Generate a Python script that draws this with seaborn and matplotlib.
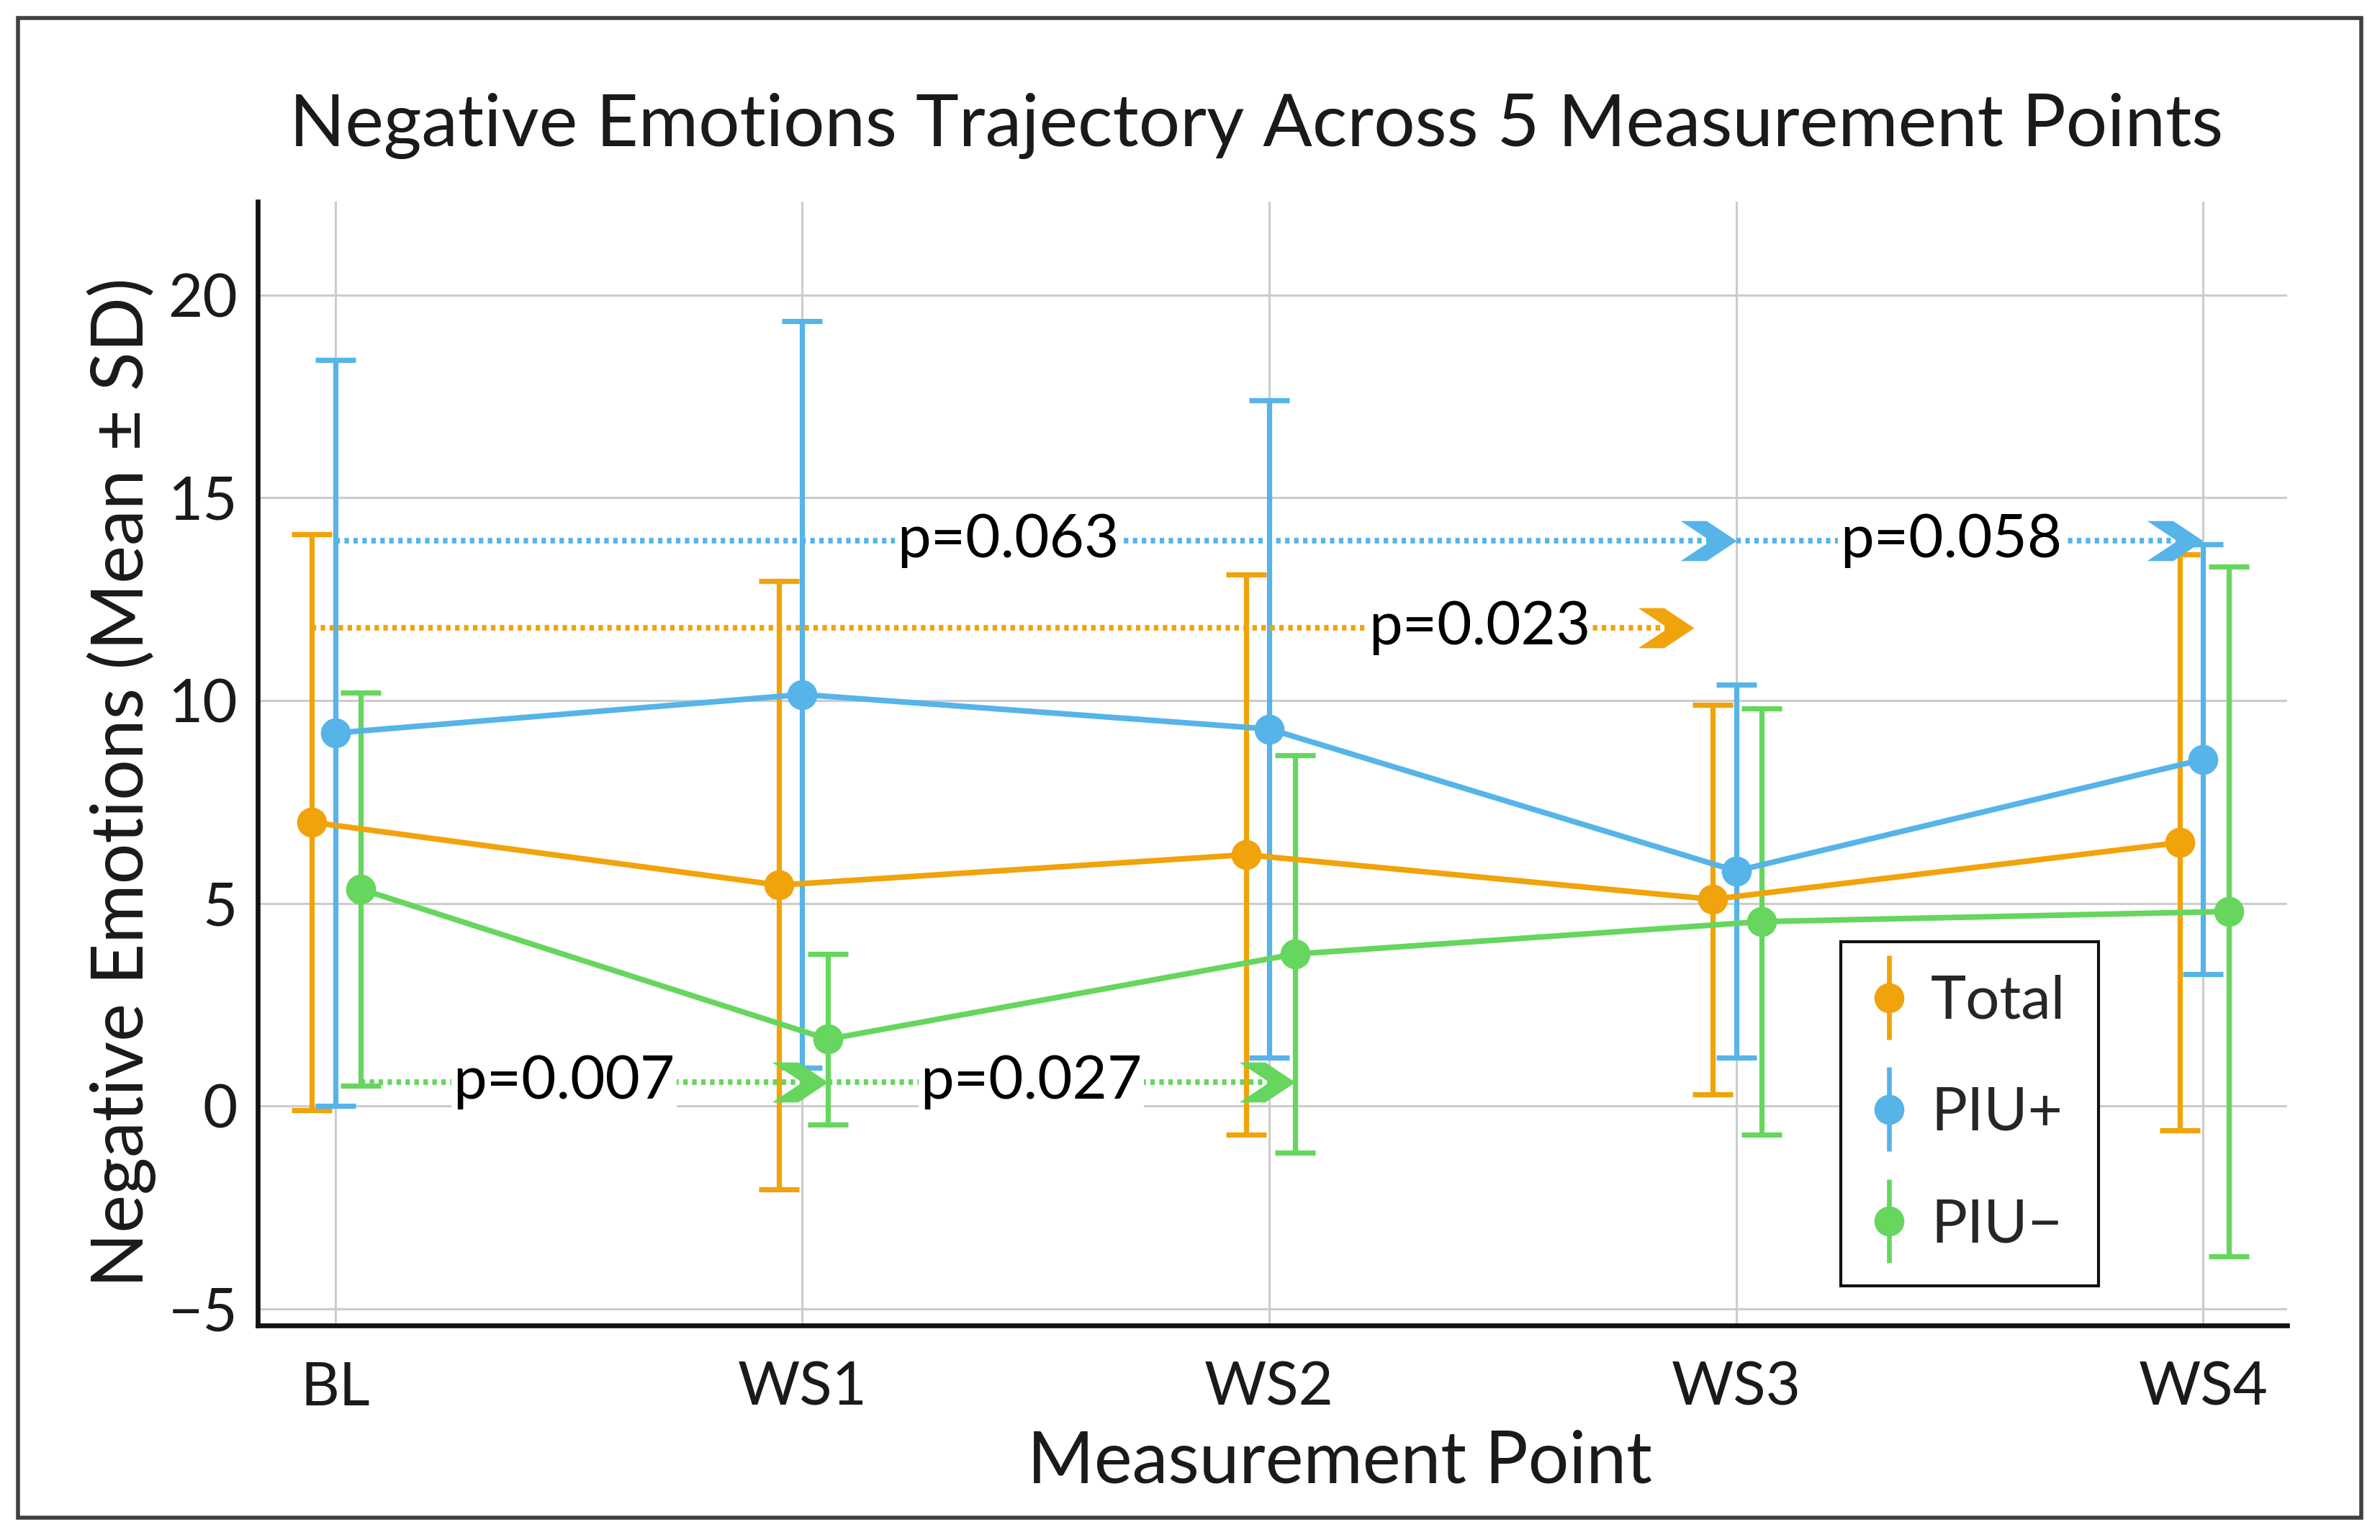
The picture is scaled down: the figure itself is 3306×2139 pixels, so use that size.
import numpy as np
import pandas as pd
import matplotlib
matplotlib.use("Agg")
import matplotlib.pyplot as plt
from matplotlib.patches import Rectangle
from matplotlib.legend_handler import HandlerErrorbar
import seaborn as sns

# Values
points = ['BL', 'WS1', 'WS2', 'WS3', 'WS4']
groups = ['Total', 'PIU+', 'PIU\u2212']
total_mean = [7.0, 5.45, 6.2, 5.1, 6.5]
total_sd = [7.1, 7.5, 6.9, 4.8, 7.1]
piu_pos_mean = [9.2, 10.15, 9.3, 5.8, 8.55]
piu_pos_sd = [9.2, 9.2, 8.1, 4.6, 5.3]
piu_neg_mean = [5.35, 1.65, 3.75, 4.55, 4.8]
piu_neg_sd = [4.85, 2.1, 4.9, 5.25, 8.5]

# Pairwise comparisons (group, from, to, height, label)
comp_group = ['PIU+', 'PIU+', 'Total', 'PIU\u2212', 'PIU\u2212']
comp_from = ['BL', 'WS3', 'BL', 'BL', 'WS1']
comp_to = ['WS3', 'WS4', 'WS3', 'WS1', 'WS2']
comp_y = [13.95, 13.95, 11.8, 0.6, 0.6]
comp_label = ['p=0.063', 'p=0.058', 'p=0.023', 'p=0.007', 'p=0.027']
comp_text_x = [1.44, 3.46, 2.45, 0.49, 1.49]

colors = {'Total': '#F0A30A', 'PIU+': '#56B4E9', 'PIU\u2212': '#66D65E'}
offsets = {'Total': -0.05, 'PIU+': 0.0, 'PIU\u2212': 0.055}

rows = []
for g, m, s in zip(groups, [total_mean, piu_pos_mean, piu_neg_mean],
                   [total_sd, piu_pos_sd, piu_neg_sd]):
    for i, (p, mv, sv) in enumerate(zip(points, m, s)):
        rows.append({'point': p, 'group': g, 'x': i + offsets[g], 'mean': mv, 'sd': sv})
df = pd.DataFrame(rows)

sns.set_theme(style='whitegrid')
plt.rcParams['font.family'] = ['Lato', 'DejaVu Sans']

fig = plt.figure(figsize=(16.53, 10.695), dpi=200)
ax = fig.add_axes([0.1083, 0.1395, 0.8527, 0.7295])

# error bars
for g in groups:
    d = df[df.group == g]
    ax.errorbar(d['x'], d['mean'], yerr=d['sd'], fmt='none', ecolor=colors[g],
                elinewidth=2.6, capsize=10, capthick=2.6, zorder=2)

sns.lineplot(data=df, x='x', y='mean', hue='group', hue_order=groups,
             palette=colors, marker='o', markersize=15, markeredgewidth=0,
             linewidth=2.8, legend=False, ax=ax, zorder=3)

# chevron arrow head, tip at origin
chevron = [(0, 0), (-1.5, 1), (-2.8, 1), (-1.3, 0), (-2.8, -1), (-1.5, -1), (0, 0)]

for g, a, b, yv, lab, tx in zip(comp_group, comp_from, comp_to, comp_y,
                                comp_label, comp_text_x):
    x0 = points.index(a) + offsets[g]
    x1 = points.index(b) + offsets[g]
    if g == 'Total':
        x1 -= 0.04
    ax.plot([x0, x1 - 0.03], [yv, yv], linestyle=(0, (0.8, 0.8)), color=colors[g],
            linewidth=2.8, zorder=4)
    ax.plot([x1], [yv], marker=chevron, markersize=56, color=colors[g],
            markeredgewidth=0, linestyle='none', zorder=4)
    ax.text(tx, yv, lab, ha='center', va='center', fontsize=30, color='black',
            zorder=5, bbox=dict(facecolor='white', edgecolor='none', pad=1))

ax.set_xlim(-0.166, 4.18)
ax.set_ylim(-5.4, 22.3)
ax.set_xticks(range(len(points)))
ax.set_xticklabels(points)
ax.set_yticks([-5, 0, 5, 10, 15, 20])
ax.tick_params(axis='x', length=0, pad=18, labelsize=30, labelcolor='#1a1a1a')
ax.tick_params(axis='y', length=0, pad=10, labelsize=30, labelcolor='#1a1a1a')
ax.grid(True, color='#cccccc', linewidth=1.1)
ax.set_facecolor('white')
for side in ['top', 'right']:
    ax.spines[side].set_visible(False)
for side in ['left', 'bottom']:
    ax.spines[side].set_visible(True)
    ax.spines[side].set_color('#111111')
    ax.spines[side].set_linewidth(2.4)

ax.set_xlabel('Measurement Point', fontsize=36, color='#1a1a1a')
ax.xaxis.set_label_coords(0.533, -0.093)
ax.xaxis.label.set_va('top')
ax.set_ylabel('Negative Emotions (Mean \u00b1 SD)', fontsize=36, color='#1a1a1a')
ax.yaxis.set_label_coords(-0.05, 0.483)

fig.text(0.528, 0.905, 'Negative Emotions Trajectory Across 5 Measurement Points',
         ha='center', va='baseline', fontsize=36.5, color='#1a1a1a')

# legend with errorbar-style handles
handles = []
for g in groups:
    h = ax.errorbar([np.nan], [np.nan], yerr=[1], fmt='o', color=colors[g],
                    markersize=14, elinewidth=2.4, capsize=0, label=g)
    handles.append(h)
leg = ax.legend(handles=handles, labels=groups, loc='lower left',
                bbox_to_anchor=(0.78, 0.035), fontsize=30, frameon=True,
                fancybox=False, edgecolor='#111111', framealpha=1,
                handlelength=0.5, handletextpad=0.45, labelspacing=0.95,
                borderpad=0.55, borderaxespad=0,
                handler_map={type(handles[0]): HandlerErrorbar(yerr_size=0.7)})
leg.get_frame().set_linewidth(1.5)

fig.patches.append(Rectangle((0.0076, 0.0145), 0.9846, 0.974, transform=fig.transFigure,
                             fill=False, edgecolor='#404040', linewidth=2))

fig.savefig('out.png', dpi=200, facecolor='white')
